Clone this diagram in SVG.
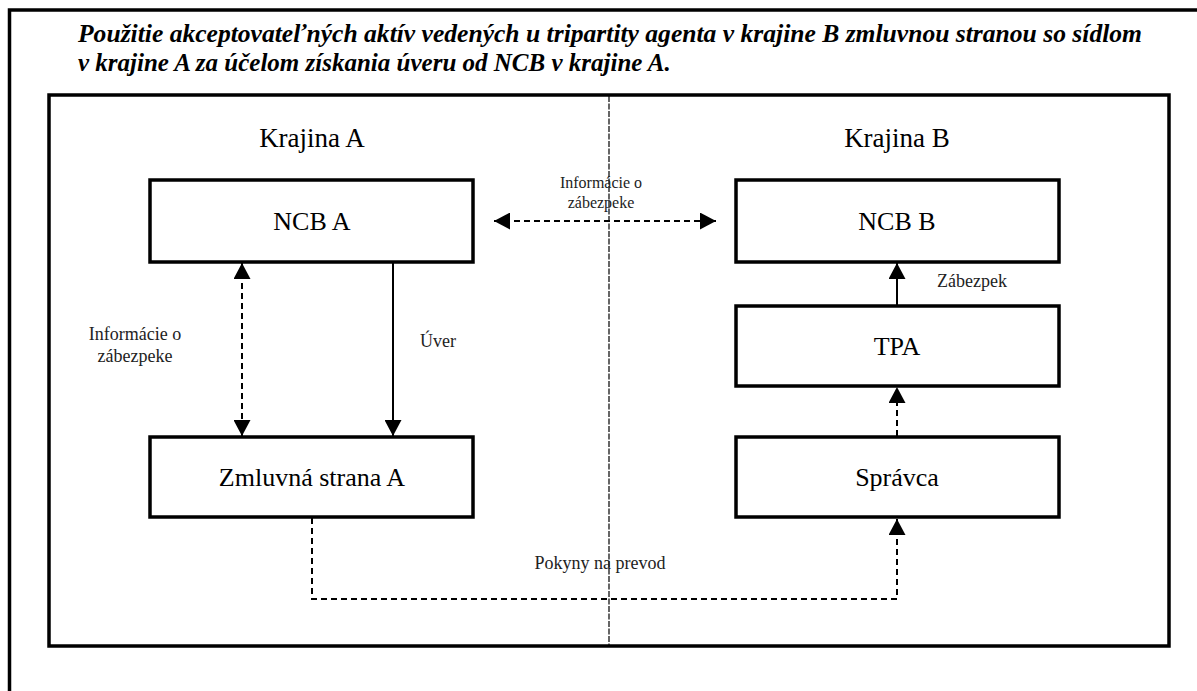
<svg xmlns="http://www.w3.org/2000/svg" width="1197" height="691" viewBox="0 0 1197 691">
  <style>
    .frame { fill: none; stroke: #000; stroke-width: 3.5; }
    .box { fill: #fff; stroke: #000; stroke-width: 3.5; }
    .title { font-family: "Liberation Serif", "DejaVu Serif", serif; font-weight: bold; font-style: italic; font-size: 25px; fill: #000; }
    .region { font-family: "Liberation Serif", "DejaVu Serif", serif; font-size: 27px; fill: #000; text-anchor: middle; }
    .node { font-family: "Liberation Serif", "DejaVu Serif", serif; font-size: 26px; fill: #000; text-anchor: middle; }
    .lbl { font-family: "Liberation Serif", "DejaVu Serif", serif; font-size: 18px; fill: #222; }
    .lbl-s { font-family: "Liberation Serif", "DejaVu Serif", serif; font-size: 16px; fill: #222; text-anchor: middle; }
    .solid { fill: none; stroke: #000; stroke-width: 2; }
    .dash { fill: none; stroke: #000; stroke-width: 2; stroke-dasharray: 6 4; }
    .divider { fill: none; stroke: #000; stroke-width: 1.2; stroke-dasharray: 6 1.5; }
  </style>
  <defs>
    <marker id="arr" viewBox="0 0 18 18" refX="17" refY="9" markerWidth="17" markerHeight="17" markerUnits="userSpaceOnUse" orient="auto-start-reverse">
      <path d="M0,0 L17,9 L0,18 z" fill="#000"/>
    </marker>
  </defs>
  <rect width="1197" height="691" fill="#fff"/>

  <!-- outer frame (extends beyond canvas) -->
  <path class="frame" d="M9.5,700 V10 H1210"/>

  <!-- title -->
  <text class="title" x="78" y="42" textLength="1064" lengthAdjust="spacingAndGlyphs">Použitie akceptovateľných aktív vedených u tripartity agenta v krajine B zmluvnou stranou so sídlom</text>
  <text class="title" x="78" y="71">v krajine A za účelom získania úveru od NCB v krajine A.</text>

  <!-- inner frame -->
  <rect class="frame" x="49" y="95" width="1120" height="551"/>

  <!-- divider -->
  <line class="divider" x1="609" y1="96" x2="609" y2="645"/>

  <text class="region" x="312" y="147">Krajina A</text>
  <text class="region" x="897" y="147">Krajina B</text>

  <g id="ncb-a">
    <rect class="box" x="150" y="180" width="323" height="82"/>
    <text class="node" x="312" y="230">NCB A</text>
  </g>
  <g id="ncb-b">
    <rect class="box" x="736" y="180" width="323" height="82"/>
    <text class="node" x="897" y="230">NCB B</text>
  </g>
  <g id="tpa">
    <rect class="box" x="736" y="306" width="323" height="80"/>
    <text class="node" x="897" y="355">TPA</text>
  </g>
  <g id="zmluvna-strana-a">
    <rect class="box" x="150" y="437" width="323" height="80"/>
    <text class="node" x="312" y="486">Zmluvná strana A</text>
  </g>
  <g id="spravca">
    <rect class="box" x="736" y="437" width="323" height="80"/>
    <text class="node" x="897" y="486">Správca</text>
  </g>

  <g id="connectors">
    <!-- NCB A <-> NCB B -->
    <line class="dash" x1="494" y1="221" x2="716" y2="221" marker-start="url(#arr)" marker-end="url(#arr)"/>
    <!-- NCB A <-> Zmluvna strana A -->
    <line class="dash" x1="242" y1="263" x2="242" y2="436" marker-start="url(#arr)" marker-end="url(#arr)"/>
    <!-- Uver -->
    <line class="solid" x1="393" y1="263" x2="393" y2="436" marker-end="url(#arr)"/>
    <!-- TPA -> NCB B -->
    <line class="solid" x1="897" y1="305" x2="897" y2="263" marker-end="url(#arr)"/>
    <!-- Spravca -> TPA -->
    <line class="dash" x1="897" y1="436" x2="897" y2="387" marker-end="url(#arr)"/>
    <!-- Pokyny na prevod -->
    <polyline class="dash" points="312,518 312,599 897,599 897,519" marker-end="url(#arr)"/>

    <text class="lbl-s" x="601" y="188">Informácie o</text>
    <text class="lbl-s" x="601" y="208">zábezpeke</text>
    <text class="lbl" x="135" y="340" text-anchor="middle">Informácie o</text>
    <text class="lbl" x="135" y="362" text-anchor="middle">zábezpeke</text>
    <text class="lbl" x="420" y="347">Úver</text>
    <text class="lbl" x="937" y="287">Zábezpek</text>
    <text class="lbl" x="600" y="569" text-anchor="middle">Pokyny na prevod</text>
  </g>
</svg>
